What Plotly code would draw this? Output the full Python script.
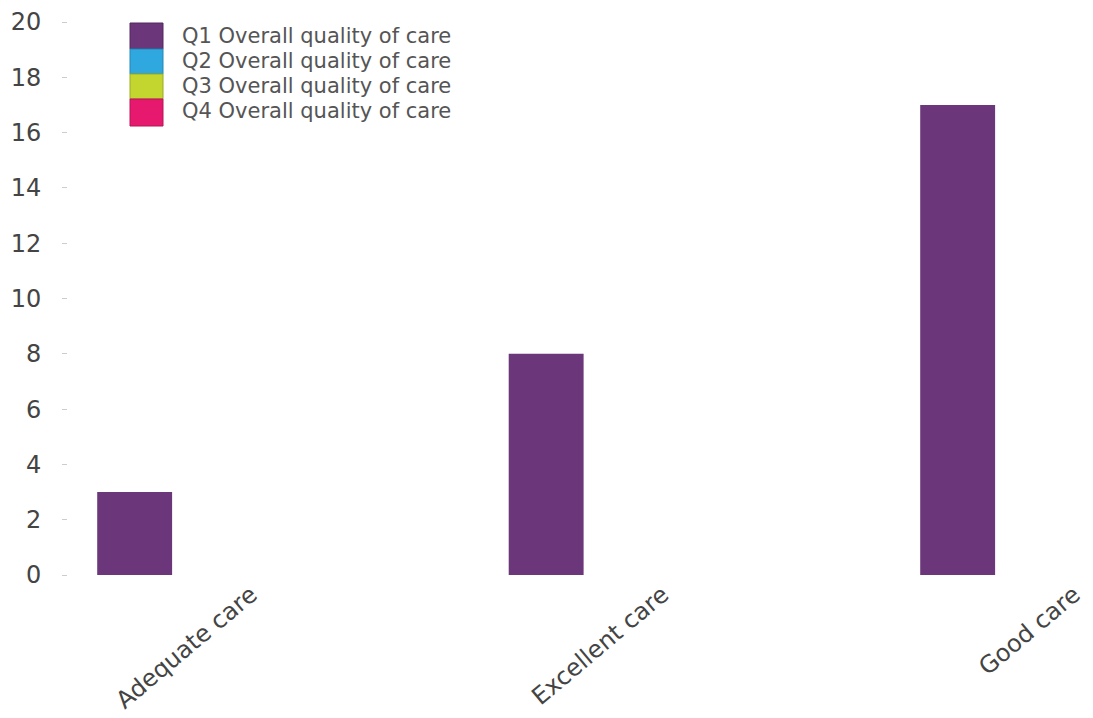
import plotly.graph_objects as go

# Survey responses per rating, one series per quarter
categories = ["Adequate care", "Excellent care", "Good care"]
series_names = [
    "Q1 Overall quality of care",
    "Q2 Overall quality of care",
    "Q3 Overall quality of care",
    "Q4 Overall quality of care",
]
q1_values = [3, 8, 17]
q2_values = [0, 0, 0]
q3_values = [0, 0, 0]
q4_values = [0, 0, 0]
y_ticks = list(range(0, 21, 2))

series_values = [q1_values, q2_values, q3_values, q4_values]
colors = ["#6b367a", "#2fa8df", "#c2d62f", "#e6196f"]
edge_colors = ["#55285f", "#2387b5", "#9aab22", "#b81458"]

W, H = 1093, 718
L, R, T, B = 68, 0, 22, 143
plot_w, plot_h = W - L - R, H - T - B
FONT = "DejaVu Sans, Verdana, sans-serif"

fig = go.Figure()
for name, vals, col in zip(series_names, series_values, colors):
    fig.add_trace(go.Bar(
        x=categories, y=vals, name=name,
        marker=dict(color=col, line=dict(width=0)),
        showlegend=False,
    ))

# Legend drawn as stacked colour swatches with labels
def px_x(p):
    return (p - L) / plot_w

def px_y(p):
    return (H - B - p) / plot_h

sw_tops = [23, 49, 74, 99]
sw_bottoms = [49, 74, 99, 126]
text_y = [36, 61, 86, 111]
shapes = []
annotations = []
for i, name in enumerate(series_names):
    shapes.append(dict(
        type="rect", xref="paper", yref="paper",
        x0=px_x(130), x1=px_x(163), y0=px_y(sw_bottoms[i]), y1=px_y(sw_tops[i]),
        fillcolor=colors[i], line=dict(color=edge_colors[i], width=1),
    ))
    annotations.append(dict(
        xref="paper", yref="paper", x=px_x(180), y=px_y(text_y[i]),
        text=name, showarrow=False, xanchor="left", yanchor="middle",
        font=dict(family=FONT, size=21, color="#555555"),
    ))

c0 = 247
spacing = 411.5
x_start = -(c0 - L) / spacing
x_end = x_start + plot_w / spacing

fig.update_layout(
    width=W, height=H,
    margin=dict(l=L, r=R, t=T, b=B),
    paper_bgcolor="white", plot_bgcolor="white",
    barmode="group", bargap=0.272, bargroupgap=0,
    shapes=shapes, annotations=annotations,
    xaxis=dict(
        range=[x_start, x_end], tickangle=-40, automargin=False,
        showgrid=False, zeroline=False, showline=False, ticks="",
        ticklabelshift=4,
        tickfont=dict(family=FONT, size=24, color="#444444"),
    ),
    yaxis=dict(
        range=[0, 20], tickvals=y_ticks, automargin=False,
        showgrid=False, zeroline=False, showline=False,
        ticks="outside", ticklen=5, tickcolor="#cccccc", tickwidth=1,
        ticklabelstandoff=16,
        tickfont=dict(family=FONT, size=24, color="#444444"),
    ),
)

fig.write_html("out.html")
